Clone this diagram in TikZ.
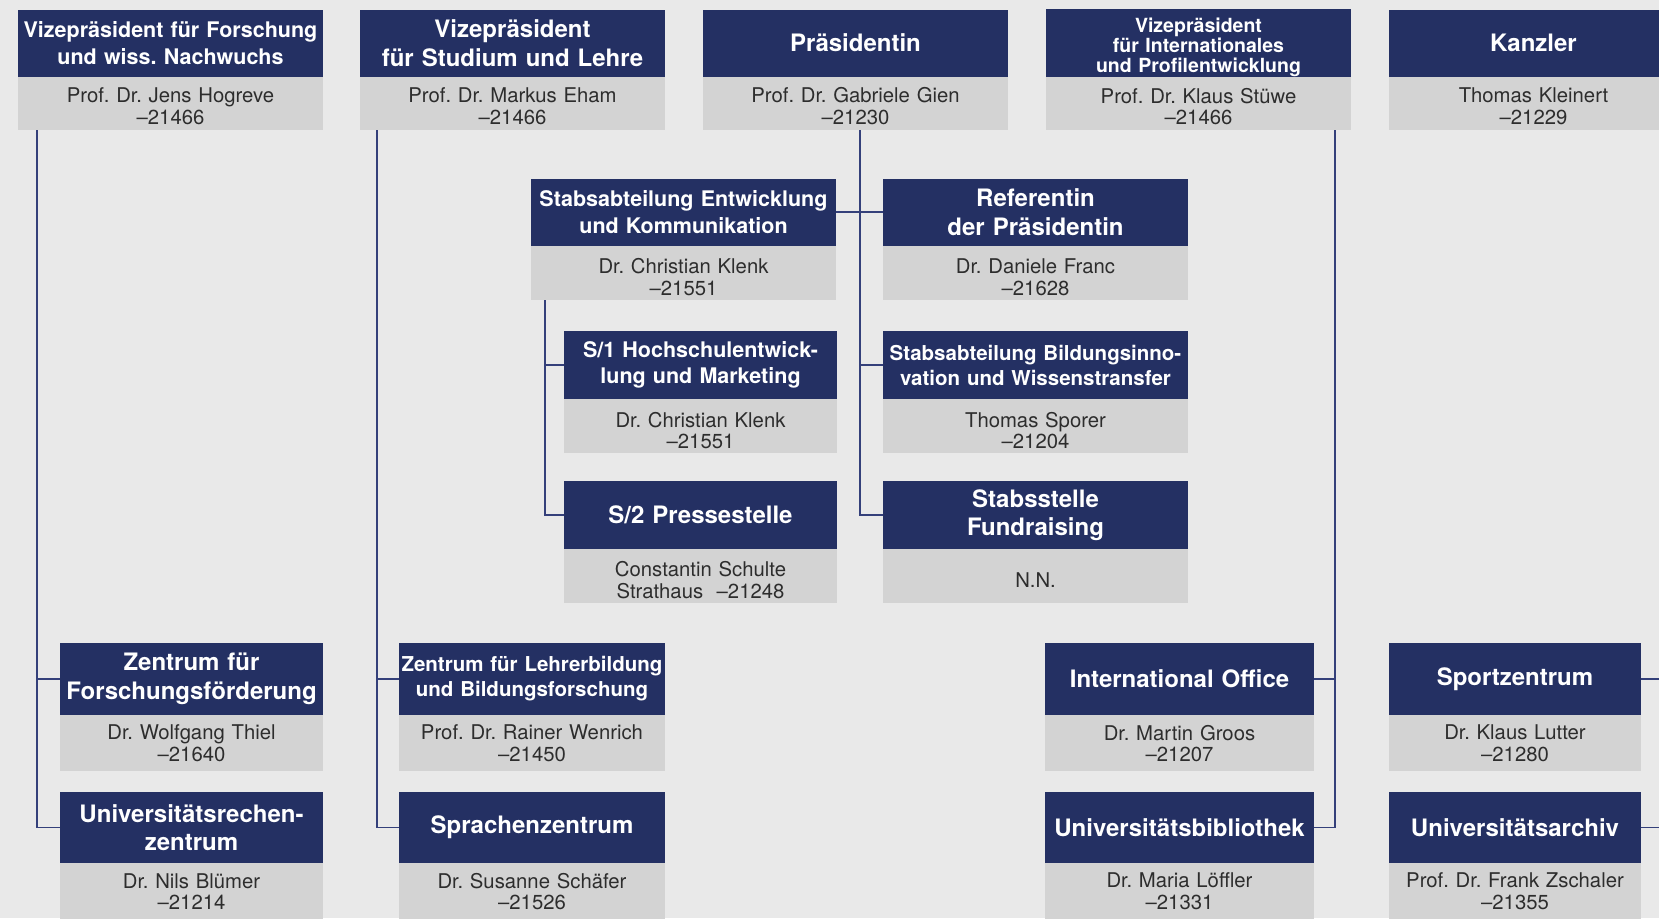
\documentclass[tikz,border=0pt]{standalone}
\usepackage{fontspec}
\setmainfont{TeX Gyre Heros}
\usetikzlibrary{positioning}
\frenchspacing
\definecolor{navy}{RGB}{36,48,99}
\definecolor{cellgray}{RGB}{211,211,211}
\definecolor{paper}{RGB}{233,233,233}
\definecolor{linkblue}{RGB}{52,64,122}
\definecolor{ink}{RGB}{45,45,45}
\newcommand\headfont{\bfseries\fontsize{24}{28.5}\selectfont}
\newcommand\headfontmid{\bfseries\fontsize{21.5}{26.5}\selectfont}
\newcommand\headfontnarrow{\bfseries\fontsize{20.5}{25}\selectfont}
\newcommand\headfontsmall{\bfseries\fontsize{19.5}{20}\selectfont}
\newcommand\namefont{\fontsize{20.3}{21.5}\selectfont}
\tikzset{
  hbox/.style={fill=navy, text=white, inner sep=0pt, align=center,
    text width=#1, minimum width=#1, minimum height=67pt, font=\headfont},
  pbox/.style={fill=cellgray, text=ink, inner sep=0pt, align=center,
    text width=#1, minimum width=#1, minimum height=53pt, font=\namefont},
  lower/.style={execute at begin node={\rule{0pt}{#1}}},
  link/.style={draw=linkblue, line width=1.5pt}
}
\begin{document}
\begin{tikzpicture}[x=1pt,y=-1pt]
\fill[paper] (0,0) rectangle (1659,918);
\useasboundingbox (0,0) rectangle (1659,918);
\clip (0,0) rectangle (1659,918);
% leitung
\node[hbox=305pt, font=\headfontmid] (v0) at (170.5,43) {Vizepräsident für Forschung\\und wiss. Nachwuchs};
\node[pbox=305pt, lower=21pt, below=0pt of v0] (p0) {Prof. Dr. Jens Hogreve\\–21466};
\node[hbox=305pt] (v1) at (512.5,43) {Vizepräsident\\für Studium und Lehre};
\node[pbox=305pt, lower=21pt, below=0pt of v1] (p1) {Prof. Dr. Markus Eham\\–21466};
\node[hbox=305pt] (v2) at (855.5,43) {Präsidentin};
\node[pbox=305pt, lower=21pt, below=0pt of v2] (p2) {Prof. Dr. Gabriele Gien\\–21230};
\node[hbox=305pt, lower=23.5pt, font=\headfontsmall] (v3) at (1198.5,43) {Vizepräsident\\für Internationales\\und Profilentwicklung};
\node[pbox=305pt, lower=21pt, below=0pt of v3] (p3) {Prof. Dr. Klaus Stüwe\\–21466};
\node[hbox=289pt] (v4) at (1533.5,43) {Kanzler};
\node[pbox=289pt, lower=21pt, below=0pt of v4] (p4) {Thomas Kleinert\\–21229};
% stab
\node[hbox=305pt, font=\headfontmid] (v5) at (683.5,212) {Stabsabteilung Entwicklung\\und Kommunikation};
\node[pbox=305pt, lower=23pt, minimum height=54pt, below=0pt of v5] (p5) {Dr. Christian Klenk\\–21551};
\node[hbox=305pt] (v6) at (1035.5,212) {Referentin\\der Präsidentin};
\node[pbox=305pt, lower=23pt, minimum height=54pt, below=0pt of v6] (p6) {Dr. Daniele Franc\\–21628};
\node[hbox=273pt, minimum height=68pt, font=\headfontmid] (v7) at (700.5,365) {S/1 Hochschulentwick-\\lung und Marketing};
\node[pbox=273pt, lower=23pt, minimum height=54pt, below=0pt of v7] (p7) {Dr. Christian Klenk\\–21551};
\node[hbox=305pt, minimum height=68pt, font=\headfontnarrow] (v8) at (1035.5,365) {Stabsabteilung Bildungsinno-\\vation und Wissenstransfer};
\node[pbox=305pt, lower=23pt, minimum height=54pt, below=0pt of v8] (p8) {Thomas Sporer\\–21204};
\node[hbox=273pt, minimum height=68pt] (v9) at (700.5,515) {S/2 Pressestelle};
\node[pbox=273pt, lower=23pt, minimum height=54pt, below=0pt of v9] (p9) {Constantin Schulte\\Strathaus~~–21248};
\node[hbox=305pt, minimum height=68pt] (v10) at (1035.5,515) {Stabsstelle\\Fundraising};
\node[pbox=305pt, lower=23pt, minimum height=54pt, below=0pt of v10] (p10) {N.N.};
% einrichtungen
\node[hbox=263pt, minimum height=72pt] (v11) at (191.5,679) {Zentrum für\\Forschungsförderung};
\node[pbox=263pt, minimum height=56pt, below=0pt of v11] (p11) {Dr. Wolfgang Thiel\\–21640};
\node[hbox=266pt, minimum height=72pt, font=\headfontnarrow] (v12) at (532,679) {Zentrum für Lehrerbildung\\und Bildungsforschung};
\node[pbox=266pt, minimum height=56pt, below=0pt of v12] (p12) {Prof. Dr. Rainer Wenrich\\–21450};
\node[hbox=269pt, minimum height=72pt] (v13) at (1179.5,679) {International Office};
\node[pbox=269pt, minimum height=56pt, below=0pt of v13] (p13) {Dr. Martin Groos\\–21207};
\node[hbox=252pt, minimum height=72pt] (v14) at (1515,679) {Sportzentrum};
\node[pbox=252pt, minimum height=56pt, below=0pt of v14] (p14) {Dr. Klaus Lutter\\–21280};
\node[hbox=263pt, minimum height=71pt] (v15) at (191.5,827.5) {Universitätsrechen-\\zentrum};
\node[pbox=263pt, minimum height=56pt, below=0pt of v15] (p15) {Dr. Nils Blümer\\–21214};
\node[hbox=266pt, minimum height=71pt] (v16) at (532,827.5) {Sprachenzentrum};
\node[pbox=266pt, minimum height=56pt, below=0pt of v16] (p16) {Dr. Susanne Schäfer\\–21526};
\node[hbox=269pt, minimum height=71pt] (v17) at (1179.5,827.5) {Universitätsbibliothek};
\node[pbox=269pt, minimum height=56pt, below=0pt of v17] (p17) {Dr. Maria Löffler\\–21331};
\node[hbox=252pt, minimum height=71pt] (v18) at (1515,827.5) {Universitätsarchiv};
\node[pbox=252pt, minimum height=56pt, below=0pt of v18] (p18) {Prof. Dr. Frank Zschaler\\–21355};
\coordinate (k1) at (1659,679);
\coordinate (k2) at (1659,827.5);
% linien
\draw[link] ([xshift=19pt]p0.south west) |- (v11.west);
\draw[link] ([xshift=19pt]p0.south west) |- (v15.west);
\draw[link] ([xshift=17pt]p1.south west) |- (v12.west);
\draw[link] ([xshift=17pt]p1.south west) |- (v16.west);
\draw[link] ([xshift=4.5pt]p2.south) |- (v8.west);
\draw[link] ([xshift=4.5pt]p2.south) |- (v10.west);
\draw[link] (v5.east) -- (v6.west);
\draw[link] ([xshift=14pt]p5.south west) |- (v7.west);
\draw[link] ([xshift=14pt]p5.south west) |- (v9.west);
\draw[link] ([xshift=-16pt]p3.south east) |- (v13.east);
\draw[link] ([xshift=-16pt]p3.south east) |- (v17.east);
\draw[link] (v14.east) -- (k1);
\draw[link] (v18.east) -- (k2);
\end{tikzpicture}
\end{document}
